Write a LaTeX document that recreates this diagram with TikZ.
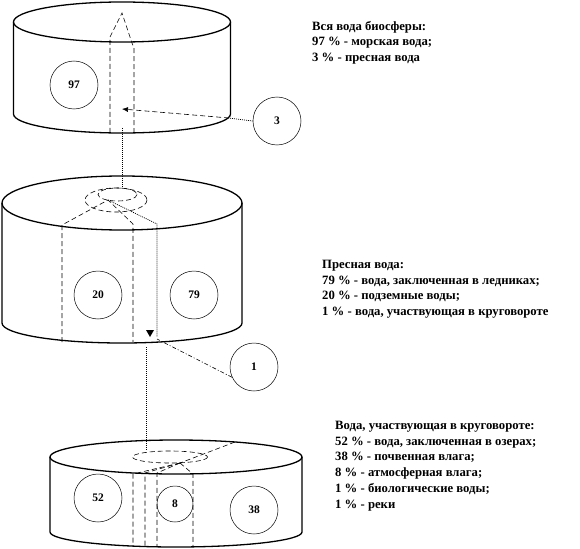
\documentclass[tikz,border=0pt]{standalone}
\usepackage{fontspec}
\setmainfont{Liberation Serif}
\usetikzlibrary{arrows.meta}
\begin{document}
\begin{tikzpicture}[x=1pt,y=-1pt,
  cyl/.style={line width=1.3pt},
  pc/.style={circle,draw,line width=0.5pt,minimum size=48pt,inner sep=0pt,font=\bfseries\fontsize{11.5}{12}\selectfont},
  dsh/.style={dash pattern=on 5pt off 3pt,line width=0.6pt},
  dtt/.style={dash pattern=on 1pt off 1pt,line width=0.7pt},
  dd/.style={dash pattern=on 4pt off 2pt on 1pt off 2pt,line width=0.6pt},
  info/.style={anchor=north west,align=left,inner sep=0pt,font=\bfseries\fontsize{12.7}{15.7}\selectfont}]
\useasboundingbox (0,0) rectangle (580,548);

% ---- cylinder 1
\draw[cyl] (122,22) ellipse [x radius=108.5, y radius=20];
\draw[cyl] (13.5,22) -- (13.5,114) arc[start angle=180,end angle=0,x radius=108.5,y radius=19] -- (230.5,22);
\draw[dsh] (110,133) -- (110,37) -- (122,13) -- (132,43) -- (134,48) -- (134,133);
\node[pc] (c97) at (74,85) {97};
\node[pc] (c3) at (277,121) {3};
\coordinate (k3) at (229,118);
\coordinate (t3) at (122,109);
\draw[dtt] (c3.west) -- (k3);
\draw[dsh,-{Latex[length=6pt,width=5pt]}] (k3) -- (t3);

% connector 1 -> 2
\coordinate (b1) at (122,128);
\coordinate (u2) at (122,188);
\draw[dtt] (b1) -- (u2);

% ---- cylinder 2
\draw[cyl] (122,203) ellipse [x radius=120, y radius=27];
\draw[cyl] (2,203) -- (2,323) arc[start angle=180,end angle=0,x radius=120,y radius=20] -- (242,203);
\draw[dsh] (116,200) ellipse [x radius=31, y radius=12];
\draw[dsh] (117.5,194.5) ellipse [x radius=19.5, y radius=6.5];
\coordinate (a2) at (108,200);
\draw[dsh] (62,342) -- (62,225) -- (a2) -- (133,224) -- (133,342);
\draw[dtt] (a2) -- (157,224) -- (157,337);
\node[pc] (c20) at (98,295) {20};
\node[pc] (c79) at (194,295) {79};
\node[pc] (c1) at (254,367) {1};
\coordinate (p1) at (157,339);
\draw[dd] (c1.205) -- (p1);
\fill (146,330) -- (154,330) -- (150,337) -- cycle;

% connector 2 -> 3
\coordinate (b2) at (146,347);
\coordinate (u3) at (146,450);
\draw[dtt] (b2) -- (u3);

% ---- cylinder 3
\draw[cyl] (176,457) ellipse [x radius=126, y radius=17];
\draw[cyl] (50,457) -- (50,532) arc[start angle=180,end angle=0,x radius=126,y radius=15] -- (302,457);
\draw[dsh] (170,457) ellipse [x radius=37.5, y radius=6];
\coordinate (a3) at (180,463);
\draw[dsh] (235,442) -- (a3);
\draw[dsh] (a3) -- (133,474) -- (133,546);
\draw[dsh] (a3) -- (145,473) -- (145,547);
\draw[dsh] (a3) -- (157,473) -- (157,547);
\draw[dsh] (a3) -- (193,474) -- (193,547);
\node[pc] (c52) at (98,498) {52};
\node[pc,minimum size=36pt] (c8) at (175,504) {8};
\node[pc] (c38) at (254,510) {38};

% ---- texts
\node[info] (t1) at (312,21) {Вся вода биосферы:\\97 \% - морская вода;\\3 \% - пресная вода};
\node[info] (t2) at (322,260) {Пресная вода:\\79 \% - вода, заключенная в ледниках;\\20 \% - подземные воды;\\1 \% - вода, участвующая в круговороте};
\node[info] (t3) at (335,421) {Вода, участвующая в круговороте:\\52 \% - вода, заключенная в озерах;\\38 \% - почвенная влага;\\8 \% - атмосферная влага;\\1 \% - биологические воды;\\1 \% - реки};
\end{tikzpicture}
\end{document}
